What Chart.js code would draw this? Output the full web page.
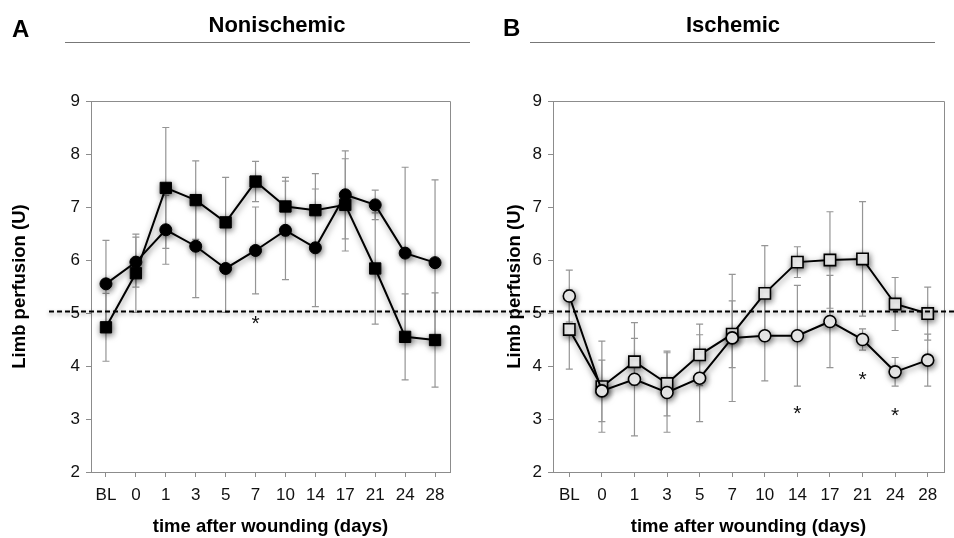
<!DOCTYPE html>
<html><head><meta charset="utf-8">
<script src="https://cdn.jsdelivr.net/npm/chart.js@4/dist/chart.umd.min.js"></script>
<style>
html,body{margin:0;padding:0;background:#fff;}
#wrap{position:relative;width:954px;height:538px;overflow:hidden;font-family:"Liberation Sans",Arial,sans-serif;background:#fff;}
.cv{position:absolute;top:0;width:477px;height:538px;}
.letter{position:absolute;font-weight:bold;font-size:24px;color:#000;line-height:normal;}
.head{position:absolute;font-weight:bold;font-size:22px;color:#000;text-align:center;line-height:normal;}
.rule{position:absolute;height:0;border-top:1.5px solid #777;top:42px;}
</style></head>
<body><div id="wrap">
<div class="cv" style="left:0"><canvas id="c1" width="477" height="538"></canvas></div>
<div class="cv" style="left:477px"><canvas id="c2" width="477" height="538"></canvas></div>
<div class="letter" style="left:12px;top:15px">A</div>
<div class="head" style="left:157px;width:240px;top:12px">Nonischemic</div>
<div class="rule" style="left:65px;width:405px"></div>
<div class="letter" style="left:503px;top:14px">B</div>
<div class="head" style="left:613px;width:240px;top:12px">Ischemic</div>
<div class="rule" style="left:530px;width:405px"></div>
</div>
<script>
// ---- data ----
const categories = ['BL','0','1','3','5','7','10','14','17','21','24','28'];
const yTicks = [2,3,4,5,6,7,8,9];
const referenceLevel = 5.03;

const nonCircle     = [5.55, 5.96, 6.57, 6.26, 5.84, 6.18, 6.56, 6.23, 7.23, 7.04, 6.13, 5.95];
const nonCircleErr  = [0.82, 0.47, 0.65, 0.97, 0.83, 0.82, 0.93, 1.11, 0.83, 0.28, 1.62, 1.56];
const nonSquare     = [4.73, 5.75, 7.36, 7.13, 6.71, 7.48, 7.01, 6.94, 7.04, 5.84, 4.55, 4.49];
const nonSquareErr  = [0.64, 0.74, 1.14, 0.74, 0.85, 0.38, 0.55, 0.69, 0.87, 1.05, 0.81, 0.89];

const isCircle      = [5.32, 3.53, 3.75, 3.50, 3.77, 4.53, 4.57, 4.57, 4.84, 4.50, 3.89, 4.11];
const isCircleErr   = [0.49, 0.58, 1.07, 0.75, 0.82, 1.20, 0.85, 0.95, 0.87, 0.20, 0.27, 0.49];
const isSquare      = [4.69, 3.61, 4.08, 3.67, 4.21, 4.60, 5.37, 5.96, 6.00, 6.02, 5.17, 4.99];
const isSquareErr   = [0.75, 0.86, 0.44, 0.61, 0.58, 0.63, 0.90, 0.29, 0.91, 1.08, 0.50, 0.50];

const nonAsterisks  = [{cat:'7', y:4.91}];
const isAsterisks   = [{cat:'14', y:3.21}, {cat:'21', y:3.84}, {cat:'24', y:3.17}];

// ---- drawing ----
const FONT = '"Liberation Sans", Arial, sans-serif';
Chart.defaults.font.family = FONT;
Chart.defaults.color = '#111';

const errorBarPlugin = {
  id: 'errorBars',
  beforeDatasetsDraw(chart) {
    const {ctx, scales:{x, y}} = chart;
    ctx.save();
    ctx.strokeStyle = '#959595';
    ctx.lineWidth = 1.2;
    chart.data.datasets.forEach(ds => {
      ds.values.forEach((v, i) => {
        const e = ds.errors[i];
        const px = x.getPixelForValue(i);
        const yt = y.getPixelForValue(v + e), yb = y.getPixelForValue(v - e);
        ctx.beginPath();
        ctx.moveTo(px, yt); ctx.lineTo(px, yb);
        ctx.moveTo(px - 3.5, yt); ctx.lineTo(px + 3.5, yt);
        ctx.moveTo(px - 3.5, yb); ctx.lineTo(px + 3.5, yb);
        ctx.stroke();
      });
    });
    ctx.restore();
  }
};

const shadowPlugin = {
  id: 'shadow',
  beforeDatasetDraw(chart) {
    const ctx = chart.ctx;
    ctx.save();
    ctx.shadowColor = 'rgba(0,0,0,0.55)';
    ctx.shadowBlur = 6;
    ctx.shadowOffsetX = 1;
    ctx.shadowOffsetY = 2;
  },
  afterDatasetDraw(chart) { chart.ctx.restore(); }
};

const framePlugin = {
  id: 'frame',
  beforeDatasetsDraw(chart) {
    const {ctx, chartArea:a} = chart;
    ctx.save();
    ctx.strokeStyle = '#8c8c8c';
    ctx.lineWidth = 1;
    ctx.beginPath();
    ctx.moveTo(a.left, a.top + 0.5); ctx.lineTo(a.right + 0.5, a.top + 0.5); ctx.lineTo(a.right + 0.5, a.bottom);
    ctx.stroke();
    ctx.restore();
  }
};

const refLinePlugin = {
  id: 'refLine',
  afterDraw(chart, args, opts) {
    const {ctx, scales:{y}} = chart;
    const py = y.getPixelForValue(referenceLevel);
    ctx.save();
    ctx.strokeStyle = '#000';
    ctx.lineWidth = 2;
    ctx.setLineDash([5, 3]);
    ctx.shadowColor = 'rgba(0,0,0,0.4)';
    ctx.shadowBlur = 4;
    ctx.shadowOffsetY = 2;
    ctx.beginPath();
    ctx.moveTo(opts.from, py); ctx.lineTo(opts.to, py);
    ctx.stroke();
    ctx.restore();
  }
};

const asteriskPlugin = {
  id: 'asterisks',
  afterDatasetsDraw(chart, args, opts) {
    const {ctx, scales:{x, y}} = chart;
    ctx.save();
    ctx.fillStyle = '#111';
    ctx.font = '21px ' + FONT;
    ctx.textAlign = 'center';
    ctx.textBaseline = 'alphabetic';
    opts.marks.forEach(m => {
      const px = x.getPixelForValue(categories.indexOf(m.cat));
      const py = y.getPixelForValue(m.y);
      ctx.fillText('*', px, py + 12);
    });
    ctx.restore();
  }
};

function makeChart(id, cfg) {
  const datasets = cfg.series.map(s => ({
    data: s.values,
    values: s.values,
    errors: s.errors,
    borderColor: '#000',
    borderWidth: 2,
    pointStyle: s.style,
    pointRadius: s.style === 'rect' ? 8 : 6,
    pointBackgroundColor: s.fill,
    pointBorderColor: '#000',
    pointBorderWidth: s.fill === '#fff' ? 1.6 : 1,
    tension: 0,
    fill: false
  }));
  return new Chart(document.getElementById(id), {
    type: 'line',
    data: { labels: categories, datasets },
    plugins: [framePlugin, errorBarPlugin, shadowPlugin, asteriskPlugin, refLinePlugin],
    options: {
      responsive: false,
      animation: false,
      layout: { padding: { left: cfg.padLeft, right: cfg.padRight, top: 101, bottom: 0 } },
      plugins: {
        legend: { display: false },
        tooltip: { enabled: false },
        refLine: { from: cfg.refFrom, to: 477 },
        asterisks: { marks: cfg.asterisks }
      },
      scales: {
        x: {
          type: 'category',
          offset: true,
          grid: { display: true, drawOnChartArea: false, drawTicks: true, tickLength: 5, color: '#8c8c8c' },
          border: { display: true, color: '#8c8c8c', width: 1 },
          ticks: { color: '#111', font: { size: 17 }, padding: 8, maxRotation: 0, autoSkip: false },
          title: { display: true, text: 'time after wounding (days)', color: '#000',
                   font: { size: 18.5, weight: 'bold' }, padding: { top: 0, bottom: 0 } },
          afterFit: s => { s.height = 66; }
        },
        y: {
          min: 2, max: 9,
          afterBuildTicks: s => { s.ticks = yTicks.map(v => ({ value: v })); },
          grid: { display: true, drawOnChartArea: false, drawTicks: true, tickLength: 5, color: '#8c8c8c' },
          border: { display: true, color: '#8c8c8c', width: 1 },
          ticks: { color: '#111', font: { size: 17 }, padding: 6 },
          title: { display: true, text: 'Limb perfusion (U)', color: '#000',
                   font: { size: 18.5, weight: 'bold' }, padding: { top: 4, bottom: 0 } },
          afterFit: s => { s.width = cfg.yWidth; }
        }
      }
    }
  });
}

makeChart('c1', {
  padLeft: 5, padRight: 27, yWidth: 86, refFrom: 49,
  asterisks: nonAsterisks,
  series: [
    { values: nonCircle, errors: nonCircleErr, style: 'circle', fill: '#000' },
    { values: nonSquare, errors: nonSquareErr, style: 'rect', fill: '#000' }
  ]
});
makeChart('c2', {
  padLeft: 23, padRight: 10, yWidth: 53, refFrom: 0,
  asterisks: isAsterisks,
  series: [
    { values: isCircle, errors: isCircleErr, style: 'circle', fill: '#fff' },
    { values: isSquare, errors: isSquareErr, style: 'rect', fill: '#fff' }
  ]
});
</script>
</body></html>
